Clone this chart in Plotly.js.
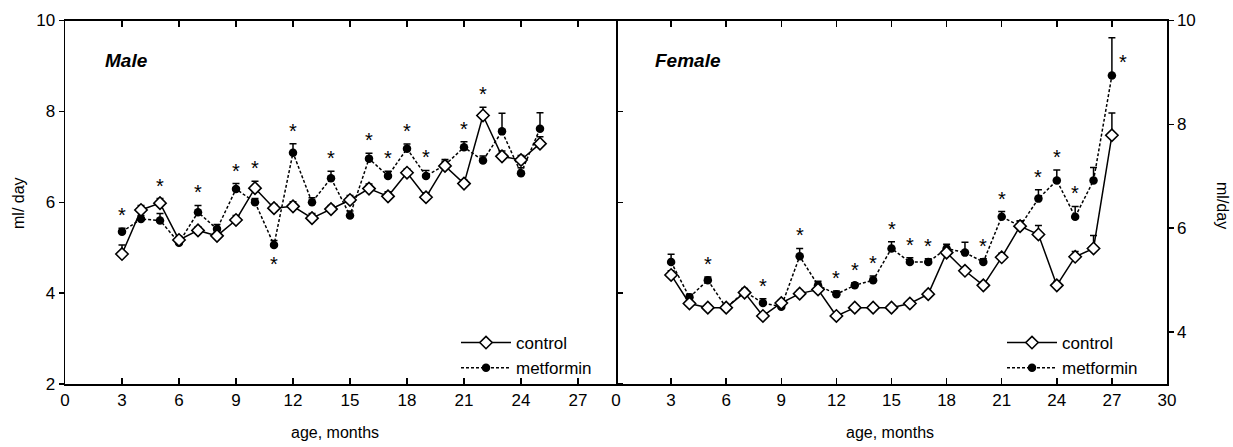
<!DOCTYPE html>
<html>
<head>
<meta charset="utf-8">
<script src="https://cdn.plot.ly/plotly-3.0.1.min.js"></script>
<style>html,body{margin:0;padding:0;background:#fff;}#chart{width:1233px;height:447px;}</style>
</head>
<body>
<div id="chart"></div>
<script>
// ---------- DATA ----------
// Male panel
const monthsMale = [3,4,5,6,7,8,9,10,11,12,13,14,15,16,17,18,19,20,21,22,23,24,25];
const controlMale = [4.86,5.83,5.98,5.17,5.38,5.26,5.61,6.31,5.87,5.91,5.65,5.85,6.05,6.30,6.13,6.65,6.11,6.80,6.41,7.91,7.01,6.93,7.29];
const controlMaleErr = [0.20,0.10,0.10,0.08,0.08,0.08,0.10,0.15,0.08,0.10,0.10,0.08,0.10,0.10,0.10,0.08,0.10,0.10,0.08,0.18,0.12,0.10,0.15];
const metforminMale = [5.35,5.63,5.60,5.11,5.78,5.41,6.29,6.00,5.06,7.09,6.00,6.53,5.71,6.96,6.58,7.18,6.58,6.82,7.21,6.92,7.56,6.64,7.62];
const metforminMaleErr = [0.08,0.08,0.15,0.08,0.15,0.10,0.12,0.08,0.10,0.20,0.10,0.15,0.10,0.12,0.10,0.10,0.12,0.12,0.12,0.10,0.40,0.12,0.35];
const sigMaleAbove = [3,5,7,9,10,12,14,16,17,18,19,21,22];
const sigMaleBelow = [11];

// Female panel
const monthsFemale = [3,4,5,6,7,8,9,10,11,12,13,14,15,16,17,18,19,20,21,22,23,24,25,26,27];
const controlFemale = [5.10,4.55,4.47,4.47,4.76,4.31,4.56,4.74,4.82,4.31,4.47,4.47,4.47,4.55,4.73,5.53,5.18,4.90,5.44,6.04,5.88,4.90,5.45,5.61,7.79];
const controlFemaleErr = [0.08,0.06,0.05,0.05,0.06,0.06,0.06,0.06,0.06,0.05,0.05,0.05,0.05,0.05,0.06,0.08,0.06,0.06,0.08,0.10,0.17,0.08,0.10,0.25,0.43];
const metforminFemale = [5.35,4.67,5.00,4.47,4.78,4.56,4.49,5.46,4.90,4.73,4.90,5.00,5.61,5.35,5.35,5.61,5.53,5.35,6.22,6.04,6.57,6.92,6.22,6.92,8.94];
const metforminFemaleErr = [0.15,0.06,0.06,0.05,0.06,0.08,0.06,0.15,0.08,0.06,0.05,0.08,0.13,0.08,0.06,0.08,0.20,0.06,0.10,0.10,0.17,0.20,0.20,0.25,0.73];
const sigFemaleAbove = [5,8,10,12,13,14,15,16,17,20,21,23,24,25];
const sigFemaleRight = [27];

const maleTicksX = [0,3,6,9,12,15,18,21,24,27];
const femaleTicksX = [0,3,6,9,12,15,18,21,24,27,30];
const maleTicksY = [2,4,6,8,10];
const femaleTicksY = [4,6,8,10];

// ---------- STYLE ----------
const FONT = 'Liberation Sans, Arial, sans-serif';
const W = 1233, H = 447;
const zeros = a => a.map(() => 0);

function makeTraces(months, ctrl, ctrlErr, met, metErr, xa, ya, leg) {
  return [
    {
      x: months, y: met, type: 'scatter', mode: 'lines+markers', name: 'metformin',
      xaxis: xa, yaxis: ya, legend: leg,
      line: {color: '#000', width: 1.5, dash: '3px,2px'},
      marker: {symbol: 'circle', size: 8.5, color: '#000'},
      error_y: {type: 'data', array: metErr, arrayminus: zeros(metErr), symmetric: false,
                color: '#000', thickness: 1.5, width: 3.5}
    },
    {
      x: months, y: ctrl, type: 'scatter', mode: 'lines+markers', name: 'control',
      xaxis: xa, yaxis: ya, legend: leg,
      line: {color: '#000', width: 1.5},
      marker: {symbol: 'diamond', size: 9.5, color: '#fff', line: {color: '#000', width: 1.6}},
      error_y: {type: 'data', array: ctrlErr, arrayminus: zeros(ctrlErr), symmetric: false,
                color: '#000', thickness: 1.5, width: 3.5}
    }
  ];
}

const traces = [
  ...makeTraces(monthsMale, controlMale, controlMaleErr, metforminMale, metforminMaleErr, 'x', 'y', 'legend'),
  ...makeTraces(monthsFemale, controlFemale, controlFemaleErr, metforminFemale, metforminFemaleErr, 'x2', 'y2', 'legend2')
];

// star annotations
function stars(months, ctrl, ctrlErr, met, metErr, above, below, right, xr, yr) {
  const out = [];
  const starFont = {family: FONT, size: 20, color: '#000'};
  above.forEach(m => {
    const i = months.indexOf(m);
    const up = Math.max(ctrl[i] + ctrlErr[i], met[i] + metErr[i]);
    out.push({x: m, y: up, xref: xr, yref: yr, text: '*', showarrow: false,
              yanchor: 'middle', yshift: 13, font: starFont});
  });
  below.forEach(m => {
    const i = months.indexOf(m);
    const lo = Math.min(ctrl[i], met[i]);
    out.push({x: m, y: lo, xref: xr, yref: yr, text: '*', showarrow: false,
              yanchor: 'middle', yshift: -19, font: starFont});
  });
  right.forEach(m => {
    const i = months.indexOf(m);
    out.push({x: m, y: met[i], xref: xr, yref: yr, text: '*', showarrow: false,
              yanchor: 'middle', yshift: 14, xshift: 11, font: starFont});
  });
  return out;
}

const px = v => v / W;
const py = v => (H - v) / H;

const annotations = [
  ...stars(monthsMale, controlMale, controlMaleErr, metforminMale, metforminMaleErr, sigMaleAbove, sigMaleBelow, [], 'x', 'y'),
  ...stars(monthsFemale, controlFemale, controlFemaleErr, metforminFemale, metforminFemaleErr, sigFemaleAbove, [], sigFemaleRight, 'x2', 'y2'),
  {xref: 'paper', yref: 'paper', x: px(103), y: py(60), xanchor: 'left', yanchor: 'middle', showarrow: false,
   text: '<b><i>Male</i></b>', font: {family: FONT, size: 19, color: '#000'}},
  {xref: 'paper', yref: 'paper', x: px(653), y: py(60), xanchor: 'left', yanchor: 'middle', showarrow: false,
   text: '<b><i>Female</i></b>', font: {family: FONT, size: 19, color: '#000'}},
  {xref: 'paper', yref: 'paper', x: px(18), y: py(203), xanchor: 'center', yanchor: 'middle', showarrow: false,
   text: 'ml/ day', textangle: -90, font: {family: FONT, size: 16, color: '#000'}},
  {xref: 'paper', yref: 'paper', x: px(1223), y: py(205), xanchor: 'center', yanchor: 'middle', showarrow: false,
   text: 'ml/day', textangle: 90, font: {family: FONT, size: 16, color: '#000'}},
  {xref: 'paper', yref: 'paper', x: px(335), y: py(432), xanchor: 'center', yanchor: 'middle', showarrow: false,
   text: 'age, months', font: {family: FONT, size: 16, color: '#000'}},
  {xref: 'paper', yref: 'paper', x: px(890), y: py(432), xanchor: 'center', yanchor: 'middle', showarrow: false,
   text: 'age, months', font: {family: FONT, size: 16, color: '#000'}}
];

const axisCommon = {
  showgrid: false, zeroline: false, showline: true, linecolor: '#000', linewidth: 1.5,
  tickcolor: '#000', tickwidth: 1.5, tickfont: {family: FONT, size: 17, color: '#000'},
  fixedrange: true
};
const yDom = [py(384), py(20.5)];

const layout = {
  width: W, height: H,
  margin: {l: 0, r: 0, t: 0, b: 0},
  paper_bgcolor: '#fff', plot_bgcolor: '#fff',
  font: {family: FONT, size: 16, color: '#000'},
  showlegend: true,
  xaxis: Object.assign({}, axisCommon, {
    domain: [px(65), px(616)], range: [0, 29], tickmode: 'array', tickvals: maleTicksX,
    ticks: 'inside', ticklen: 6, mirror: 'ticks', anchor: 'y'
  }),
  yaxis: Object.assign({}, axisCommon, {
    domain: yDom, range: [2, 10], tickmode: 'array', tickvals: maleTicksY,
    ticks: 'outside', ticklen: 5, mirror: 'ticks', anchor: 'x'
  }),
  xaxis2: Object.assign({}, axisCommon, {
    domain: [px(616), px(1167)], range: [0, 30], tickmode: 'array', tickvals: femaleTicksX,
    ticks: 'inside', ticklen: 6, mirror: 'ticks', anchor: 'y2'
  }),
  yaxis2: Object.assign({}, axisCommon, {
    domain: yDom, range: [3, 10], tickmode: 'array', tickvals: femaleTicksY,
    ticks: 'outside', ticklen: 5, side: 'right', anchor: 'x2', mirror: false
  }),
  legend: {x: px(456), y: py(325), xanchor: 'left', yanchor: 'top', bgcolor: 'rgba(0,0,0,0)',
           font: {family: FONT, size: 17, color: '#000'}, traceorder: 'reversed', itemwidth: 50,
           tracegroupgap: 0},
  legend2: {x: px(1002), y: py(325), xanchor: 'left', yanchor: 'top', bgcolor: 'rgba(0,0,0,0)',
            font: {family: FONT, size: 17, color: '#000'}, traceorder: 'reversed', itemwidth: 50,
            tracegroupgap: 0},
  annotations: annotations
};

Plotly.newPlot('chart', traces, layout, {displayModeBar: false, staticPlot: true});
</script>
</body>
</html>
